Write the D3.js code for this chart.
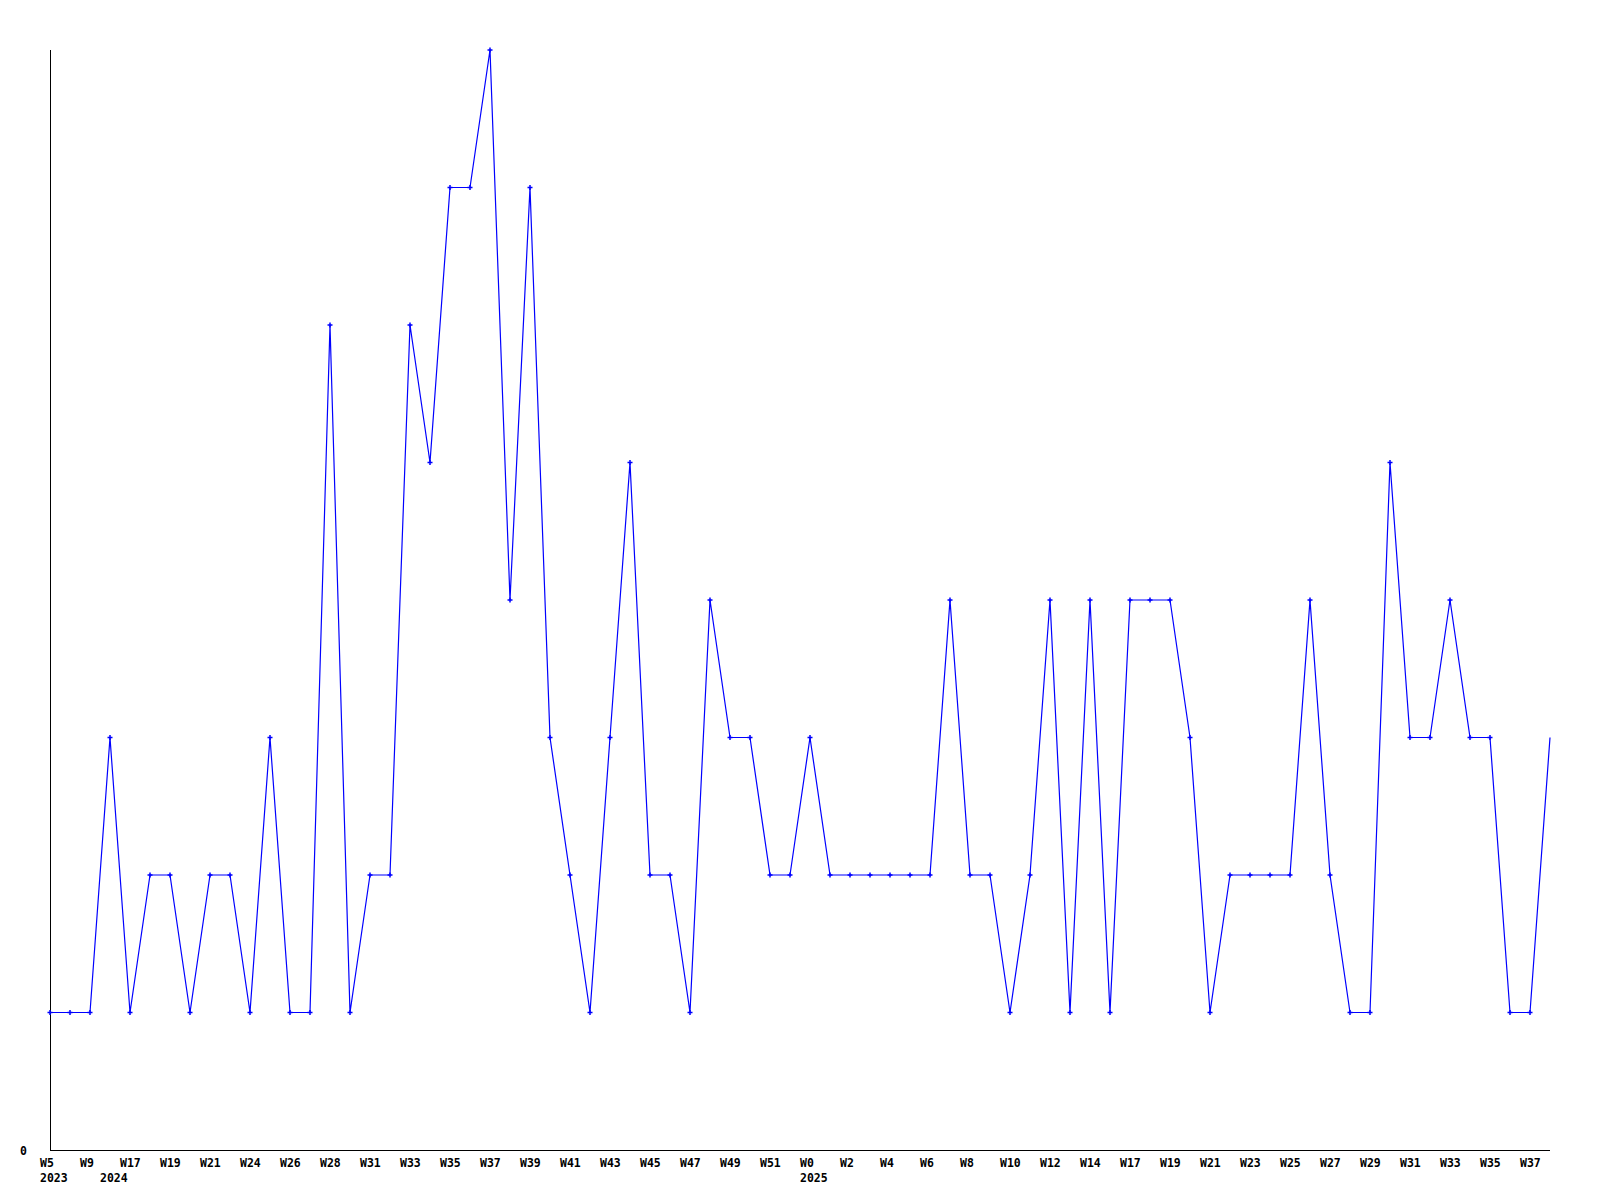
<!DOCTYPE html>
<html>
<head>
<meta charset="utf-8">
<script src="https://cdn.jsdelivr.net/npm/d3@7"></script>
<style>
  body { margin: 0; background: #fff; }
  text { font-family: "DejaVu Sans Mono", monospace; font-weight: bold; font-size: 11.5px; }
</style>
</head>
<body>
<svg id="chart" width="1600" height="1200"></svg>
<script>
"use strict";

// week of each point, in order (odd ones are unlabelled on the axis)
let weeks = [
  "W5", "W7", "W9", "W16", "W17", "W18", "W19", "W20", "W21", "W23",
  "W24", "W25", "W26", "W27", "W28", "W30", "W31", "W32", "W33", "W34",
  "W35", "W36", "W37", "W38", "W39", "W40", "W41", "W42", "W43", "W44",
  "W45", "W46", "W47", "W48", "W49", "W50", "W51", "W52", "W0", "W1",
  "W2", "W3", "W4", "W5", "W6", "W7", "W8", "W9", "W10", "W11",
  "W12", "W13", "W14", "W16", "W17", "W18", "W19", "W20", "W21", "W22",
  "W23", "W24", "W25", "W26", "W27", "W28", "W29", "W30", "W31", "W32",
  "W33", "W34", "W35", "W36", "W37", "W38"
];

let counts = [
  1, 1, 1, 3, 1, 2, 2, 1, 2, 2,
  1, 3, 1, 1, 6, 1, 2, 2, 6, 5,
  7, 7, 8, 4, 7, 3, 2, 1, 3, 5,
  2, 2, 1, 4, 3, 3, 2, 2, 3, 2,
  2, 2, 2, 2, 2, 4, 2, 2, 1, 2,
  4, 1, 4, 1, 4, 4, 4, 3, 1, 2,
  2, 2, 2, 4, 2, 1, 1, 5, 3, 3,
  4, 3, 3, 1, 1, 3
];

// point index where a new year starts
let years = [
  { index: 0, label: "2023" },
  { index: 3, label: "2024" },
  { index: 38, label: "2025" }
];

let yTicks = [0];

let svg = d3.select("#chart");

let idx = d3.range(counts.length);

let x = d3.scaleLinear()
  .domain([0, counts.length - 1])
  .range([50, 1550]);

let y = d3.scaleLinear()
  .domain([0, d3.max(counts)])
  .range([1150, 50]);

// axes
svg.append("line")
  .attr("x1", 50.5).attr("x2", 50.5)
  .attr("y1", 50).attr("y2", 1150)
  .attr("stroke", "#000");
svg.append("line")
  .attr("x1", 50).attr("x2", 1550)
  .attr("y1", 1150.5).attr("y2", 1150.5)
  .attr("stroke", "#000");

// tick labels, every other week
svg.selectAll("text.week")
  .data(idx.filter(i => i % 2 == 0))
  .enter()
  .append("text")
  .attr("class", "week")
  .attr("x", d => x(d) - 10)
  .attr("y", 1167)
  .text(d => weeks[d]);

svg.selectAll("text.year")
  .data(years)
  .enter()
  .append("text")
  .attr("class", "year")
  .attr("x", d => x(d.index) - 10)
  .attr("y", 1182)
  .text(d => d.label);

svg.selectAll("text.ytick")
  .data(yTicks)
  .enter()
  .append("text")
  .attr("class", "ytick")
  .attr("x", 20)
  .attr("y", d => y(d) + 5)
  .text(d => d);

// the line
let line = d3.line()
  .x(d => x(d))
  .y(d => y(counts[d]));

svg.append("path")
  .datum(idx)
  .attr("d", line)
  .attr("fill", "none")
  .attr("stroke", "#0000ff")
  .attr("stroke-width", 1.2);

// little plus markers, the last point has none
svg.selectAll("path.mark")
  .data(idx.slice(0, -1))
  .enter()
  .append("path")
  .attr("class", "mark")
  .attr("transform", d => `translate(${x(d)},${y(counts[d])})`)
  .attr("d", "M-2.5,0H2.5M0,-2.5V2.5")
  .attr("stroke", "#0000ff")
  .attr("stroke-width", 1.5);
</script>
</body>
</html>
